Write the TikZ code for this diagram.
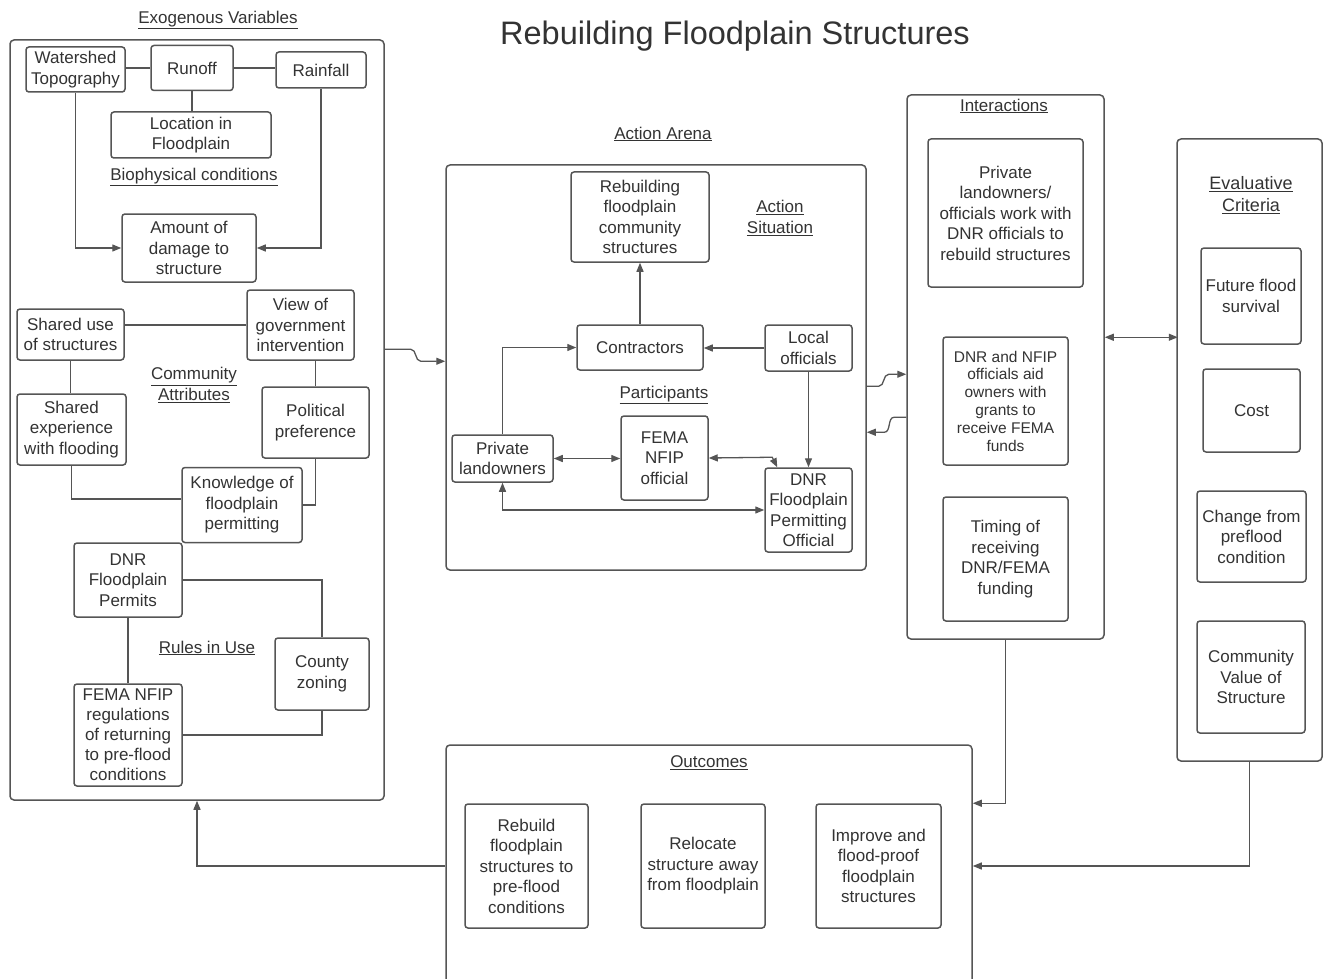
\documentclass[tikz,border=0pt]{standalone}
\usepackage{fontspec}
\setmainfont{Liberation Sans}
\usetikzlibrary{arrows.meta,calc}
\definecolor{lnc}{HTML}{555555}
\definecolor{txc}{HTML}{333333}
\newcommand\fntA{\fontsize{17}{20.5}\selectfont}
\newcommand\fntB{\fontsize{15.5}{17.8}\selectfont}
\newcommand\fntL{\fontsize{17}{20.5}\selectfont}
\tikzset{
  box/.style={draw=lnc, line width=1.5pt, rounded corners=3pt, text=txc, align=center, inner sep=0pt, font=\fntA},
  frame/.style={draw=lnc, line width=1.5pt, rounded corners=4pt, inner sep=0pt},
  lbl/.style={text=txc, align=center, inner sep=0pt, font=\fntL},
  conn/.style={draw=lnc, line width=1.3pt},
  arr/.style={conn, -{Triangle[length=9pt,width=7pt]}},
  dbl/.style={conn, {Triangle[length=9pt,width=7pt]}-{Triangle[length=9pt,width=7pt]}}
}
\begin{document}
\begin{tikzpicture}[x=1pt,y=-1pt]
\clip (0,0) rectangle (1323,979);
\fill[white] (0,0) rectangle (1323,979);

% title
\node[text=txc, inner sep=0pt, font=\fontsize{32.5}{38}\selectfont] (title) at (735,36) {Rebuilding Floodplain Structures};

% frames
\node[frame, minimum width=374pt, minimum height=760pt] (exo) at (197,420) {};
\node[frame, minimum width=420pt, minimum height=405pt] (arena) at (656,367.5) {};
\node[frame, minimum width=197pt, minimum height=544pt] (inter) at (1005.5,367) {};
\node[frame, minimum width=145pt, minimum height=622pt] (eval) at (1249.5,450) {};
\node[frame, minimum width=526pt, minimum height=260pt] (outc) at (709,875) {};

% labels
\node[lbl] (lexo) at (218,20) {\underline{Exogenous Variables}};
\node[lbl] (lbio) at (194,177) {\underline{Biophysical conditions}};
\node[lbl] (lcom) at (194,385) {\underline{Community}\\\underline{Attributes}};
\node[lbl] (lrul) at (207,648) {\underline{Rules in Use}};
\node[lbl] (larena) at (663,134) {\underline{Action Arena}};
\node[lbl] (lsit) at (780,218) {\underline{Action}\\\underline{Situation}};
\node[lbl] (lpar) at (664,395) {\underline{Participants}};
\node[lbl] (lint) at (1004,106) {\underline{Interactions}};
\node[lbl, font=\fontsize{18}{22}\selectfont] (leval) at (1251,195) {\underline{Evaluative}\\\underline{Criteria}};
\node[lbl] (lout) at (709,763) {\underline{Outcomes}};

% exogenous nodes
\node[box, minimum width=99pt, minimum height=45pt] (ws) at (75.5,69.5) {Watershed\\Topography};
\node[box, minimum width=82pt, minimum height=45pt] (runoff) at (192,68) {Runoff};
\node[box, minimum width=90pt, minimum height=36pt] (rain) at (321,70) {Rainfall};
\node[box, minimum width=160pt, minimum height=46pt] (loc) at (191,135) {Location in\\Floodplain};
\node[box, minimum width=134pt, minimum height=68pt] (amt) at (189,248) {Amount of\\damage to\\structure};
\node[box, minimum width=107pt, minimum height=51pt] (su) at (70.5,334.5) {Shared use\\of structures};
\node[box, minimum width=107pt, minimum height=70pt] (vg) at (300.5,325) {View of\\government\\intervention};
\node[box, minimum width=109pt, minimum height=71pt] (se) at (71.5,429.5) {Shared\\experience\\with flooding};
\node[box, minimum width=107pt, minimum height=71pt] (pp) at (315.5,422.5) {Political\\preference};
\node[box, minimum width=120pt, minimum height=75pt] (kn) at (242,505) {Knowledge of\\floodplain\\permitting};
\node[box, minimum width=108pt, minimum height=74pt] (dp) at (128,580) {DNR\\Floodplain\\Permits};
\node[box, minimum width=94pt, minimum height=72pt] (cz) at (322,674) {County\\zoning};
\node[box, minimum width=108pt, minimum height=102pt, font=\fontsize{17}{20}\selectfont] (fr) at (128,735) {FEMA NFIP\\regulations\\of returning\\to pre-flood\\conditions};

% exogenous connectors
\draw[conn] (ws.east |- runoff.west) -- (runoff.west);
\draw[conn] (runoff.east) -- (runoff.east -| rain.west);
\draw[conn] (runoff.south) -- (runoff.south |- loc.north);
\draw[arr] (ws.south) |- (amt.west);
\draw[arr] (rain.south) |- (amt.east);
\draw[conn] (vg.west) -- (vg.west -| su.east);
\draw[conn] (su.south) -- (su.south |- se.north);
\draw[conn] (pp.north) -- (pp.north |- vg.south);
\draw[conn] (se.south) |- ($(kn.west)+(0,-6)$);
\draw[conn] (pp.south) |- (kn.east);
\draw[conn] (dp.east) -| (cz.north);
\draw[conn] (dp.south) -- (fr.north);
\draw[conn] (cz.south) |- (fr.east);

% action arena nodes
\node[box, minimum width=138pt, minimum height=90pt] (reb) at (640,217) {Rebuilding\\floodplain\\community\\structures};
\node[box, minimum width=126pt, minimum height=45pt] (con) at (640,347.5) {Contractors};
\node[box, minimum width=87pt, minimum height=46pt] (lo) at (808.5,348) {Local\\officials};
\node[box, minimum width=101pt, minimum height=47pt] (pl) at (502.5,458.5) {Private\\landowners};
\node[box, minimum width=87pt, minimum height=84pt] (fema) at (664.5,458) {FEMA\\NFIP\\official};
\node[box, minimum width=87pt, minimum height=84pt] (dnr) at (808.5,510) {DNR\\Floodplain\\Permitting\\Official};

% action arena connectors
\draw[arr] (con.north) -- (reb.south);
\draw[arr] (lo.west) -- (lo.west -| con.east);
\draw[arr] (pl.north) |- (con.west);
\draw[dbl] (pl.east) -- (pl.east -| fema.west);
\draw[dbl] (fema.east) -- ($(dnr.north west)+(8,-10)$) -- ($(dnr.north west)+(13,0)$);
\draw[arr] (lo.south) -- (dnr.north);
\draw[dbl] (pl.south) |- (dnr.west);

% interactions nodes
\node[box, minimum width=155pt, minimum height=148pt] (i1) at (1005.5,213) {Private\\landowners/\\officials work with\\DNR officials to\\rebuild structures};
\node[box, minimum width=125pt, minimum height=128pt, font=\fntB] (i2) at (1005.5,401) {DNR and NFIP\\officials aid\\owners with\\grants to\\receive FEMA\\funds};
\node[box, minimum width=125pt, minimum height=124pt] (i3) at (1005.5,559) {Timing of\\receiving\\DNR/FEMA\\funding};

% evaluative nodes
\node[box, minimum width=100pt, minimum height=96pt] (e1) at (1251,296) {Future flood\\survival};
\node[box, minimum width=97pt, minimum height=83pt] (e2) at (1251.5,410.5) {Cost};
\node[box, minimum width=109pt, minimum height=91pt] (e3) at (1251.5,536.5) {Change from\\preflood\\condition};
\node[box, minimum width=108pt, minimum height=112pt] (e4) at (1251,677) {Community\\Value of\\Structure};

% outcomes nodes
\node[box, minimum width=123pt, minimum height=124pt] (o1) at (526.5,866) {Rebuild\\floodplain\\structures to\\pre-flood\\conditions};
\node[box, minimum width=124pt, minimum height=124pt] (o2) at (703,866) {Relocate\\structure away\\from floodplain};
\node[box, minimum width=125pt, minimum height=124pt] (o3) at (878.5,866) {Improve and\\flood-proof\\floodplain\\structures};

% frame connectors
\draw[arr] ($(exo.north east)+(0,310)$) -- ++(26,0) to[out=0,in=180] ++(10,12) -- ($(arena.north west)+(0,197)$);
\draw[arr] ($(arena.north east)+(0,222)$) -- ++(12,0) to[out=0,in=180] ++(10,-12) -- ($(inter.north west)+(0,280)$);
\draw[arr] ($(inter.north west)+(0,323)$) -- ++(-12,0) to[out=180,in=0] ++(-10,15) -- ($(arena.north east)+(0,268)$);
\draw[dbl] ($(inter.north east)+(0,243)$) -- ($(inter.north east)+(73,243)$);
\draw[arr] (inter.south) |- ($(outc.north east)+(0,59)$);
\draw[arr] (eval.south) |- (o3.east -| outc.east);
\draw[arr] (o1.west -| outc.west) -| (exo.south);
\end{tikzpicture}
\end{document}
